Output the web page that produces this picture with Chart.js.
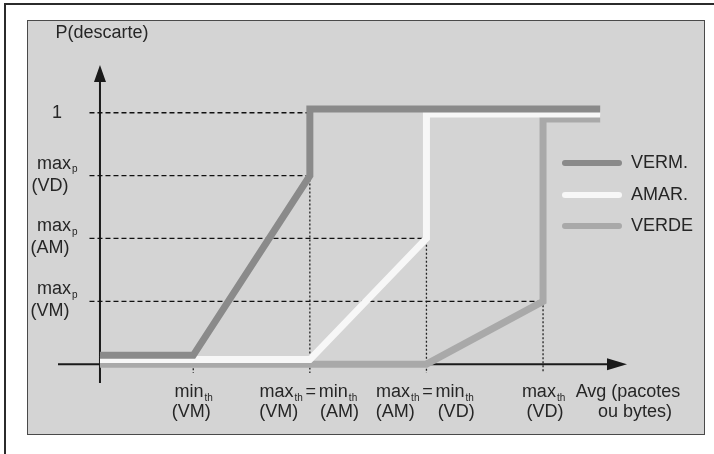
<!DOCTYPE html>
<html>
<head>
<meta charset="utf-8">
<script src="https://cdn.jsdelivr.net/npm/chart.js@4.4.1/dist/chart.umd.min.js"></script>
<style>
  html, body { margin: 0; padding: 0; background: #fff; }
  #wrap { position: relative; width: 714px; height: 454px; overflow: hidden; }
  #frame { position: absolute; left: 4px; top: 3px; width: 720px; height: 470px;
           border-top: 2px solid #2b2b2b; border-left: 2px solid #2b2b2b; }
  #panel { position: absolute; left: 27px; top: 20px; width: 676px; height: 413px;
           background: #d4d4d4; border: 1px solid #4a4a4a; }
  #chart { position: absolute; left: 0; top: 0; }
</style>
</head>
<body>
<div id="wrap">
  <div id="frame"></div>
  <div id="panel"></div>
  <canvas id="chart" width="714" height="454"></canvas>
</div>
<script>
// thresholds on the Avg axis: min_th(VM), max_th(VM)=min_th(AM), max_th(AM)=min_th(VD), max_th(VD)
const xTicks = [0.8, 1.8, 2.8, 3.8];
// drop probability levels: max_p(VM), max_p(AM), max_p(VD), 1
const yTicks = [0.25, 0.5, 0.75, 1];
const yTickLabels = [["max", "p", "(VM)"], ["max", "p", "(AM)"], ["max", "p", "(VD)"], ["1"]];

// series (small offsets keep the three thick lines side by side, as in the drawing)
const vermX = [0, 0.8, 1.8, 1.8, 4.29];
const vermY = [0.035, 0.035, 0.75, 1.015, 1.015];
const amarX = [0, 1.8, 2.8, 2.8, 4.29];
const amarY = [0.018, 0.018, 0.5, 0.995, 0.995];
const verdeX = [0, 2.8, 3.8, 3.8, 4.29];
const verdeY = [0, 0, 0.25, 0.975, 0.975];

// where each dashed guide ends
const hGuideEnd = [3.8, 2.8, 1.8, 1.8];
const vGuideTop = [0, 0.75, 1, 0.25];

const seriesNames = ["VERM.", "AMAR.", "VERDE"];
const seriesColors = ["#8a8a8a", "#f7f7f7", "#a9a9a9"];
const textColor = "#262626";

function pts(xs, ys) {
  return xs.map((x, i) => ({ x: x, y: ys[i] }));
}

const hGuides = [];
yTicks.forEach((y, i) => {
  hGuides.push({ x: -0.09, y: y }, { x: hGuideEnd[i], y: y }, { x: null, y: null });
});
const vGuides = [];
xTicks.forEach((x, i) => {
  vGuides.push({ x: x, y: vGuideTop[i] }, { x: x, y: -0.035 }, { x: null, y: null });
});

function drawSub(ctx, main, sub, x, y, align) {
  ctx.font = "18px 'Liberation Sans', Arial, sans-serif";
  const w1 = ctx.measureText(main).width;
  ctx.font = "10px 'Liberation Sans', Arial, sans-serif";
  const w2 = ctx.measureText(sub).width;
  const total = w1 + w2;
  let left = x;
  if (align === "center") left = x - total / 2;
  if (align === "right") left = x - total;
  ctx.textAlign = "left";
  ctx.textBaseline = "middle";
  ctx.font = "18px 'Liberation Sans', Arial, sans-serif";
  ctx.fillText(main, left, y);
  ctx.font = "10px 'Liberation Sans', Arial, sans-serif";
  ctx.fillText(sub, left + w1 + 1, y + 6);
  return { left: left, right: left + total };
}

const axesPlugin = {
  id: "axes",
  beforeDatasetsDraw(chart) {
    const ctx = chart.ctx;
    const xs = chart.scales.x, ys = chart.scales.y;
    const x0 = xs.getPixelForValue(0), y0 = ys.getPixelForValue(0);
    ctx.save();
    ctx.strokeStyle = "#1a1a1a";
    ctx.fillStyle = "#1a1a1a";
    ctx.lineWidth = 2;
    // y axis
    ctx.beginPath();
    ctx.moveTo(x0, ys.bottom);
    ctx.lineTo(x0, ys.top + 16);
    ctx.stroke();
    ctx.beginPath();
    ctx.moveTo(x0, ys.top);
    ctx.lineTo(x0 - 6, ys.top + 17);
    ctx.lineTo(x0 + 6, ys.top + 17);
    ctx.closePath();
    ctx.fill();
    // x axis
    ctx.beginPath();
    ctx.moveTo(xs.left, y0);
    ctx.lineTo(xs.right - 18, y0);
    ctx.stroke();
    ctx.beginPath();
    ctx.moveTo(xs.right, y0);
    ctx.lineTo(xs.right - 20, y0 - 6);
    ctx.lineTo(xs.right - 20, y0 + 6);
    ctx.closePath();
    ctx.fill();
    ctx.restore();
  },
  afterDraw(chart) {
    const ctx = chart.ctx;
    const xs = chart.scales.x, ys = chart.scales.y;
    ctx.save();
    ctx.fillStyle = textColor;

    // axis titles
    ctx.font = "18px 'Liberation Sans', Arial, sans-serif";
    ctx.textAlign = "center";
    ctx.textBaseline = "middle";
    ctx.fillText("P(descarte)", 102, 33);

    // y tick labels
    yTicks.forEach((v, i) => {
      const py = ys.getPixelForValue(v);
      const lab = yTickLabels[i];
      if (lab.length === 1) {
        ctx.font = "18px 'Liberation Sans', Arial, sans-serif";
        ctx.textAlign = "center";
        ctx.textBaseline = "middle";
        ctx.fillText(lab[0], 57, py);
      } else {
        drawSub(ctx, lab[0], lab[1], 37, py - 12, "left");
        ctx.font = "18px 'Liberation Sans', Arial, sans-serif";
        ctx.textAlign = "center";
        ctx.textBaseline = "middle";
        ctx.fillText(lab[2], 50, py + 10);
      }
    });

    // x tick labels
    const r1 = 392, r2 = 412;
    const p0 = xs.getPixelForValue(xTicks[0]);
    drawSub(ctx, "min", "th", p0, r1, "center");
    ctx.font = "18px 'Liberation Sans', Arial, sans-serif";
    ctx.textAlign = "center";
    ctx.fillText("(VM)", p0 - 2, r2);

    const pairs = [["(VM)", "(AM)"], ["(AM)", "(VD)"]];
    [1, 2].forEach((k, j) => {
      const p = xs.getPixelForValue(xTicks[k]);
      const a = drawSub(ctx, "max", "th", p - 8, r1, "right");
      ctx.font = "18px 'Liberation Sans', Arial, sans-serif";
      ctx.textAlign = "center";
      ctx.fillText("=", p + 1, r1);
      const b = drawSub(ctx, "min", "th", p + 9, r1, "left");
      ctx.font = "18px 'Liberation Sans', Arial, sans-serif";
      ctx.textAlign = "center";
      ctx.fillText(pairs[j][0], (a.left + a.right) / 2 - 2, r2);
      ctx.fillText(pairs[j][1], (b.left + b.right) / 2 + 2, r2);
    });

    const p3 = xs.getPixelForValue(xTicks[3]);
    drawSub(ctx, "max", "th", p3, r1, "center");
    ctx.font = "18px 'Liberation Sans', Arial, sans-serif";
    ctx.textAlign = "center";
    ctx.fillText("(VD)", p3 + 2, r2);
    ctx.fillText("Avg (pacotes", 628, r1);
    ctx.fillText("ou bytes)", 635, r2);

    // legend
    const legY = [163, 195, 226];
    seriesNames.forEach((name, i) => {
      ctx.lineCap = "round";
      ctx.lineWidth = 6;
      ctx.strokeStyle = seriesColors[i];
      ctx.beginPath();
      ctx.moveTo(565, legY[i]);
      ctx.lineTo(619, legY[i]);
      ctx.stroke();
      ctx.fillStyle = textColor;
      ctx.font = "18px 'Liberation Sans', Arial, sans-serif";
      ctx.textAlign = "left";
      ctx.textBaseline = "middle";
      ctx.fillText(name, 631, legY[i]);
    });
    ctx.restore();
  }
};

new Chart(document.getElementById("chart"), {
  type: "scatter",
  data: {
    datasets: [
      { label: seriesNames[0], data: pts(vermX, vermY), borderColor: seriesColors[0] },
      { label: seriesNames[1], data: pts(amarX, amarY), borderColor: seriesColors[1] },
      { label: seriesNames[2], data: pts(verdeX, verdeY), borderColor: seriesColors[2] },
      { label: "h", data: hGuides, borderColor: "#111", borderWidth: 1.3, borderDash: [5, 3], borderCapStyle: "butt" },
      { label: "v", data: vGuides, borderColor: "#222", borderWidth: 1.3, borderDash: [2, 2], borderCapStyle: "butt" }
    ].map((d, i) => Object.assign({
      showLine: true,
      spanGaps: false,
      pointRadius: 0,
      borderWidth: 7,
      borderJoinStyle: "miter",
      borderCapStyle: "butt",
      tension: 0,
      clip: false
    }, d))
  },
  options: {
    responsive: false,
    animation: false,
    layout: { padding: { left: 58, right: 87, top: 65, bottom: 71 } },
    plugins: { legend: { display: false }, tooltip: { enabled: false } },
    scales: {
      x: { type: "linear", min: -0.36, max: 4.52, display: false },
      y: { type: "linear", min: -0.075, max: 1.19, display: false }
    }
  },
  plugins: [axesPlugin]
});
</script>
</body>
</html>
